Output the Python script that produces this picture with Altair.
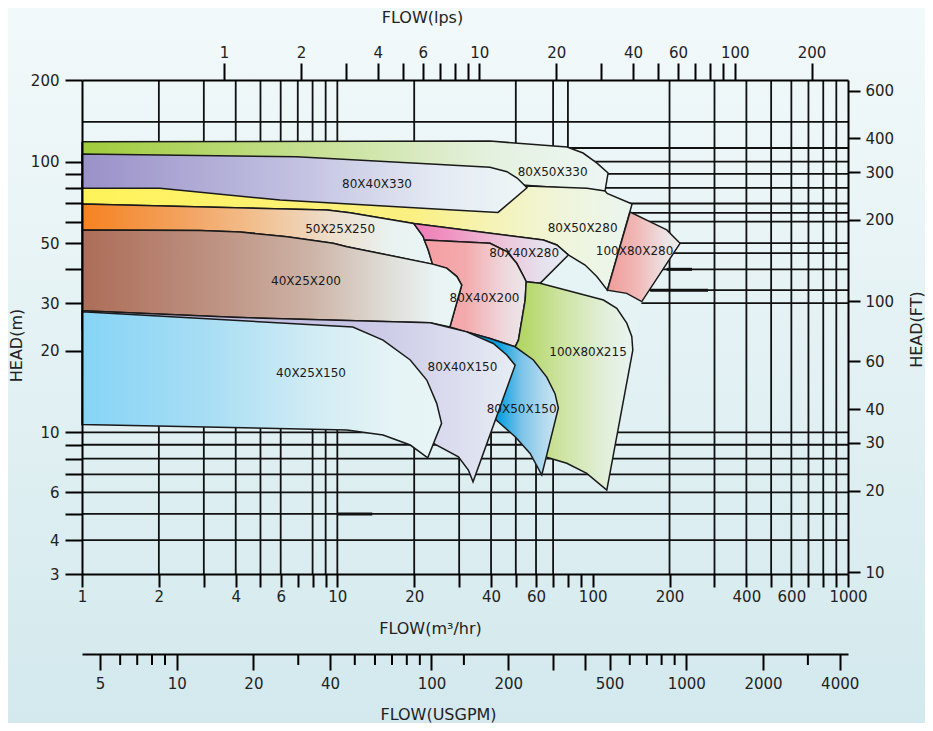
import json
import altair as alt
import pandas as pd

FONT = "DejaVu Sans"
INK = "#1a1a1a"

# ---------------- axis tick values ----------------
X_TICKS = [1, 2, 3, 4, 5, 6, 7, 8, 9, 10, 20, 30, 40, 50, 60, 70, 80, 90, 100,
           200, 300, 400, 500, 600, 700, 800, 900, 1000]
X_LABELED = [1, 2, 4, 6, 10, 20, 40, 60, 100, 200, 400, 600, 1000]
Y_TICKS = [200, 100, 90, 80, 70, 60, 50, 40, 30, 20, 10, 9, 8, 7, 6, 5, 4, 3]
Y_LABELED = [200, 100, 50, 30, 20, 10, 6, 4, 3]
LPS_TICKS = [1, 2, 3, 4, 5, 6, 7, 8, 9, 10, 20, 30, 40, 50, 60, 70, 80, 90, 100, 200]
LPS_LABELED = [1, 2, 4, 6, 10, 20, 40, 60, 100, 200]
FT_TICKS = [600, 400, 300, 200, 100, 60, 40, 30, 20, 10]
GPM_MAJOR = [5, 10, 20, 40, 100, 200, 300, 400, 500, 1000, 2000, 4000]
GPM_LABELED = [5, 10, 20, 40, 100, 200, 500, 1000, 2000, 4000]
GPM_MINOR = [6, 7, 8, 9, 30, 50, 60, 70, 80, 90, 134, 600, 700, 800, 900, 3000]

# ---------------- grid lines (flow m3/h, head m) ----------------
VGRID_TOP_FLOW = [2, 3, 4, 5, 6, 7, 8, 9, 10, 20, 50, 70, 80]
VGRID_TOP_SPAN = [200, 100]
VGRID_LOW_FLOW = [2, 3, 4, 5, 6, 8, 9, 10, 20, 30, 40, 50, 60, 70]
VGRID_LOW_SPAN = [12, 3]
VGRID_FULL_FLOW = [200, 300, 400, 500, 600, 700, 800, 900]
VGRID_FULL_SPAN = [200, 3]
HGRID_HEAD = [140, 112.2, 100, 90, 80, 70, 64.6, 60, 50, 45.9, 40, 33.5, 30,
              10, 9, 8, 7, 6, 5, 4]
HGRID_SPAN = [1, 1000]
HBOLD_HEAD = [40, 33.5, 5]
HBOLD_FROM = [195, 168, 10]
HBOLD_TO = [245, 283, 13.7]

# ---------------- pump envelopes (flow m3/h, head m) ----------------
ENV_FLOW = [1, 39.6, 79.4, 91.7, 104.0, 114.9, 111.8, 113.9, 142.7, 140.1, 172.9, 195.1,
            219.9, 155.7, 143.6, 113.6, 94.8, 79.2, 66.1, 63.2, 56.9, 49.7, 41.5, 34.0,
            32.6, 29.8, 23.8, 22.6, 19.3, 15.1, 10.9, 1]
ENV_HEAD = [118.4, 119.0, 113.1, 107.5, 98.7, 90.7, 77.8, 76.3, 69.7, 65.1, 59.1, 55.9,
            49.9, 30.4, 20.1, 6.12, 7.06, 7.69, 8.09, 6.96, 8.36, 9.64, 11.2, 6.57,
            7.26, 8.13, 9.11, 8.06, 8.98, 9.78, 10.2, 10.7]

G330_FLOW = [1, 39.6, 79.4, 91.7, 104.0, 114.9, 111.8, 52.9, 39.6, 1]
G330_HEAD = [118.4, 119.0, 113.1, 107.5, 98.7, 90.7, 77.8, 81.9, 89.2, 97.1]

Y280_FLOW = [1, 41.5, 55.3, 95.1, 111.8, 113.9, 142.7, 114.2, 103.8, 93.4, 80.3, 72.4,
             64.1, 19.9, 11.2, 9.11, 1]
Y280_HEAD = [85.4, 69.1, 81.2, 79.6, 77.8, 76.3, 69.7, 33.5, 37.6, 41.5, 45.2, 49.2,
             51.3, 59.1, 64.7, 66.2, 69.7]

P330_FLOW = [1, 6.93, 25.25, 39.6, 46.2, 50.6, 55.3, 42.6, 25.25, 5.97, 2.02, 1]
P330_HEAD = [106.6, 104.2, 97.6, 95.2, 91.7, 86.9, 80.0, 64.9, 66.6, 72.1, 79.6, 79.6]

O250_FLOW = [1, 9.11, 11.2, 19.9, 21.7, 22.7, 23.6, 10.9, 9.62, 6.35, 4.16, 2.90, 1]
O250_HEAD = [69.7, 66.2, 64.7, 59.1, 52.8, 47.1, 41.8, 48.5, 49.9, 52.8, 54.9, 55.6, 55.9]

M280_FLOW = [19.9, 64.1, 72.4, 80.3, 62.2, 54.9, 53.5, 50.4, 46.1, 39.6, 21.9, 21.7]
M280_HEAD = [59.1, 51.3, 49.2, 45.2, 35.5, 36.0, 37.8, 42.1, 46.5, 49.9, 51.3, 52.8]

K200_FLOW = [21.9, 39.6, 46.1, 50.4, 53.5, 54.9, 54.4, 51.2, 49.7, 39.6, 32.1, 27.6,
             30.7, 29.4, 26.8, 23.6, 22.7]
K200_HEAD = [51.3, 49.9, 46.5, 42.1, 37.8, 36.0, 30.8, 21.9, 20.7, 22.2, 23.5, 24.5,
             35.0, 37.6, 40.4, 41.8, 47.1]

B200_FLOW = [1, 2.90, 4.16, 6.35, 9.62, 10.9, 23.6, 26.8, 29.4, 30.7, 27.6, 23.1, 3.9, 1]
B200_HEAD = [55.9, 55.6, 54.9, 52.8, 49.9, 48.5, 41.8, 40.4, 37.6, 35.0, 24.5, 25.4, 26.6, 28.1]

G215_FLOW = [54.9, 62.2, 110.2, 124.3, 136.0, 142.3, 143.6, 113.6, 94.8, 79.2, 66.1, 59.5,
             51.9, 49.7, 51.2, 54.4]
G215_HEAD = [36.0, 35.5, 30.8, 28.7, 25.3, 22.6, 20.1, 6.12, 7.06, 7.69, 8.09, 8.6,
             13.2, 20.7, 21.9, 30.8]

C150_FLOW = [32.1, 39.6, 49.7, 58.6, 66.1, 71.2, 73.4, 63.2, 56.9, 49.7, 41.5, 36.2]
C150_HEAD = [23.5, 22.2, 20.7, 18.5, 16.0, 13.9, 12.3, 6.96, 8.36, 9.64, 11.2, 15.6]

L150_FLOW = [1, 3.9, 23.1, 32.1, 40.8, 46.1, 49.7, 34.0, 32.6, 29.8, 23.8, 17.6, 1]
L150_HEAD = [28.1, 26.6, 25.4, 23.5, 21.3, 19.3, 17.7, 6.57, 7.26, 8.13, 9.11, 13.2, 23.9]

S150_FLOW = [1, 11.5, 15.1, 19.3, 22.4, 24.5, 25.6, 22.6, 19.3, 15.1, 10.9, 1]
S150_HEAD = [27.9, 24.5, 21.9, 18.5, 15.6, 12.8, 10.8, 8.06, 8.98, 9.78, 10.2, 10.7]

R280_FLOW = [140.1, 172.9, 195.1, 219.9, 155.7, 136.0, 114.2]
R280_HEAD = [65.1, 59.1, 55.9, 49.9, 30.4, 32.6, 33.5]

LABELS = ["80X40X330", "80X50X330", "50X25X250", "80X50X280", "80X40X280", "100X80X280",
          "40X25X200", "80X40X200", "40X25X150", "80X40X150", "100X80X215", "80X50X150"]
LABEL_FLOW = [14.3, 69.7, 10.25, 91.3, 53.9, 145.9, 7.54, 37.7, 7.89, 30.9, 95.9, 52.7]
LABEL_HEAD = [82.6, 91.5, 56.3, 56.8, 45.9, 46.9, 36.2, 31.3, 16.5, 17.5, 19.8, 12.2]

# ---------------- helpers ----------------
def xs():
    return alt.Scale(type="log", domain=[1, 1000], nice=False)


def ys():
    return alt.Scale(type="log", domain=[3, 200], nice=False)


def grad(stops, vertical=False):
    return alt.LinearGradient(
        gradient="linear",
        stops=[alt.GradientStop(offset=o, color=c) for o, c in stops],
        x1=0, y1=0, x2=0 if vertical else 1, y2=1 if vertical else 0)


def label_expr(vals):
    return "indexof(%s, datum.value) >= 0 ? format(datum.value, 'd') : ''" % json.dumps(vals)


def polygon(flow, head, stops, outline=True, vertical=False):
    df = pd.DataFrame({"flow": flow + flow[:1], "head": head + head[:1],
                       "i": list(range(len(flow) + 1))})
    if outline:
        base = alt.Chart(df).mark_line(fill=grad(stops, vertical), stroke=INK, strokeWidth=1.5)
    else:
        base = alt.Chart(df).mark_line(fill=grad(stops, vertical), strokeOpacity=0)
    return base.encode(
        x=alt.X("flow:Q", scale=xs(), axis=None),
        y=alt.Y("head:Q", scale=ys(), axis=None),
        order=alt.Order("i:Q"))


AX = dict(tickColor="black", tickWidth=2, domainColor="black", domainWidth=2,
          labelFont=FONT, labelFontSize=15, labelColor="#222222", labelFlush=False,
          labelOverlap=False, grid=False, titleFont=FONT, titleFontSize=16,
          titleFontWeight="normal", titleColor="#222222", titleBaseline="middle",
          titleAlign="center", zindex=1)

# ---------------- background ----------------
bg = alt.Chart(pd.DataFrame({"a": [0]})).mark_rect(
    fill=grad([(0, "#f2f9fa"), (1, "#d3e9ed")], vertical=True)
).encode(x=alt.value(-74), x2=alt.value(843), y=alt.value(-72), y2=alt.value(643))

# ---------------- grid ----------------
vrows = ([(f, VGRID_TOP_SPAN[0], VGRID_TOP_SPAN[1]) for f in VGRID_TOP_FLOW]
         + [(f, VGRID_LOW_SPAN[0], VGRID_LOW_SPAN[1]) for f in VGRID_LOW_FLOW]
         + [(f, VGRID_FULL_SPAN[0], VGRID_FULL_SPAN[1]) for f in VGRID_FULL_FLOW])
vdf = pd.DataFrame(vrows, columns=["flow", "top", "bottom"])
vgrid = alt.Chart(vdf).mark_rule(color="#111111", strokeWidth=1.8).encode(
    x=alt.X("flow:Q", scale=xs(), axis=None),
    y=alt.Y("top:Q", scale=ys(), axis=None), y2="bottom:Q")

hdf = pd.DataFrame({"head": HGRID_HEAD, "x1": HGRID_SPAN[0], "x2": HGRID_SPAN[1]})
hgrid = alt.Chart(hdf).mark_rule(color="#111111", strokeWidth=1.8).encode(
    y=alt.Y("head:Q", scale=ys(), axis=None),
    x=alt.X("x1:Q", scale=xs(), axis=None), x2="x2:Q")

bdf = pd.DataFrame({"head": HBOLD_HEAD, "x1": HBOLD_FROM, "x2": HBOLD_TO})
hbold = alt.Chart(bdf).mark_rule(color="#111111", strokeWidth=3).encode(
    y=alt.Y("head:Q", scale=ys(), axis=None),
    x=alt.X("x1:Q", scale=xs(), axis=None), x2="x2:Q")

# ---------------- envelopes ----------------
envelope = polygon(ENV_FLOW, ENV_HEAD, [(0, "#ecf6f8"), (1, "#def0f2")], outline=False, vertical=True)
shapes = [
    polygon(G330_FLOW, G330_HEAD, [(0, "#9fcc3b"), (0.45, "#c8e196"), (0.78, "#e4f1df"), (1, "#edf6f3")]),
    polygon(Y280_FLOW, Y280_HEAD, [(0, "#fff359"), (0.6, "#faf082"), (0.75, "#f5f3b8"), (0.88, "#eff5dc"), (1, "#eaf5ee")]),
    polygon(P330_FLOW, P330_HEAD, [(0, "#9a91c8"), (0.5, "#c3c3e2"), (0.8, "#e4eaf3"), (1, "#eef6f6")]),
    polygon(O250_FLOW, O250_HEAD, [(0, "#f58220"), (0.3, "#f3a462"), (0.5, "#f2c090"), (0.7, "#eedcc8"), (0.88, "#e9f2f0"), (1, "#e8f5f5")]),
    polygon(M280_FLOW, M280_HEAD, [(0, "#ee7ab6"), (0.3, "#f09cc6"), (0.6, "#ecc8dc"), (0.85, "#e6e2ee"), (1, "#e6eef4")]),
    polygon(K200_FLOW, K200_HEAD, [(0, "#f59ea2"), (0.4, "#f4aaac"), (0.75, "#efd4d8"), (1, "#eae8ec")]),
    polygon(B200_FLOW, B200_HEAD, [(0, "#ac6d57"), (0.35, "#be9282"), (0.6, "#cdb3a6"), (0.8, "#dfdcd6"), (0.93, "#e9f3f3"), (1, "#e9f5f5")]),
    polygon(G215_FLOW, G215_HEAD, [(0, "#b0d462"), (0.1, "#b6d86c"), (0.4, "#cde4a2"), (0.75, "#e1efd8"), (1, "#e9f4f1")]),
    polygon(C150_FLOW, C150_HEAD, [(0, "#0096dc"), (0.35, "#0aa0e2"), (0.6, "#7cc4e8"), (0.8, "#aad6ee"), (1, "#cde6f1")]),
    polygon(L150_FLOW, L150_HEAD, [(0, "#b8b4dc"), (0.65, "#c9c7e5"), (0.85, "#dadcee"), (1, "#e6edf4")]),
    polygon(S150_FLOW, S150_HEAD, [(0, "#86d4f6"), (0.35, "#a8def4"), (0.65, "#d2ecf4"), (0.85, "#e4f3f5"), (1, "#e8f5f6")]),
    polygon(R280_FLOW, R280_HEAD, [(0, "#ef9c98"), (0.4, "#f0b8b6"), (0.8, "#ede2e4"), (1, "#eaeef0")]),
]

ldf = pd.DataFrame({"label": LABELS, "flow": LABEL_FLOW, "head": LABEL_HEAD})
labels = alt.Chart(ldf).mark_text(font=FONT, fontSize=12, color=INK, align="center",
                                  baseline="middle").encode(
    x=alt.X("flow:Q", scale=xs(), axis=None),
    y=alt.Y("head:Q", scale=ys(), axis=None), text="label:N")

# main axes carrier
carrier = alt.Chart(pd.DataFrame({"flow": [1], "head": [3]})).mark_point(opacity=0).encode(
    x=alt.X("flow:Q", scale=xs(), axis=alt.Axis(
        orient="bottom", values=X_TICKS, labelExpr=label_expr(X_LABELED), tickSize=13,
        labelPadding=2, title="FLOW(m³/hr)", titleX=348, titleY=54, **AX)),
    y=alt.Y("head:Q", scale=ys(), axis=alt.Axis(
        orient="left", values=Y_TICKS, labelExpr=label_expr(Y_LABELED), tickSize=17,
        labelPadding=6, title="HEAD(m)", titleX=-66, titleY=265, titleAngle=270, **AX)))

# secondary axes
lps = alt.Chart(pd.DataFrame({"lps": [1]})).mark_point(opacity=0).encode(
    x=alt.X("lps:Q", scale=alt.Scale(type="log", domain=[1 / 3.6, 1000 / 3.6], nice=False),
            axis=alt.Axis(orient="top", values=LPS_TICKS, labelExpr=label_expr(LPS_LABELED),
                          tickSize=17, labelPadding=3, title="FLOW(lps)", titleX=340,
                          titleY=-63, **AX)))

ft = alt.Chart(pd.DataFrame({"ft": [100]})).mark_point(opacity=0).encode(
    y=alt.Y("ft:Q", scale=alt.Scale(type="log", domain=[3 * 3.28084, 200 * 3.28084], nice=False),
            axis=alt.Axis(orient="right", values=FT_TICKS, labelExpr=label_expr(FT_TICKS),
                          tickSize=12, labelPadding=5, title="HEAD(FT)", titleX=68,
                          titleY=249, titleAngle=270, **AX)))

gpm = alt.Chart(pd.DataFrame({"gpm": GPM_MINOR})).mark_rule(color="black", strokeWidth=2).encode(
    x=alt.X("gpm:Q", scale=alt.Scale(type="log", domain=[4.25, 4311], nice=False),
            axis=alt.Axis(orient="bottom", offset=80, values=GPM_MAJOR,
                          labelExpr=label_expr(GPM_LABELED), tickSize=16, labelPadding=6,
                          title="FLOW(USGPM)", titleX=356, titleY=60, **AX)),
    y=alt.value(574), y2=alt.value(585))

chart = alt.layer(
    bg, vgrid, hgrid, hbold, envelope, *shapes, labels, carrier, lps, ft, gpm
).resolve_scale(
    x="independent", y="independent"
).properties(
    width=766, height=494,
    padding={"left": 74, "top": 72, "right": 77, "bottom": 149},
    autosize=alt.AutoSizeParams(type="none"),
).configure_view(stroke="transparent").configure(background="#e4f2f4")

chart.save("out.html", embed_options={"renderer": "svg", "actions": False})
